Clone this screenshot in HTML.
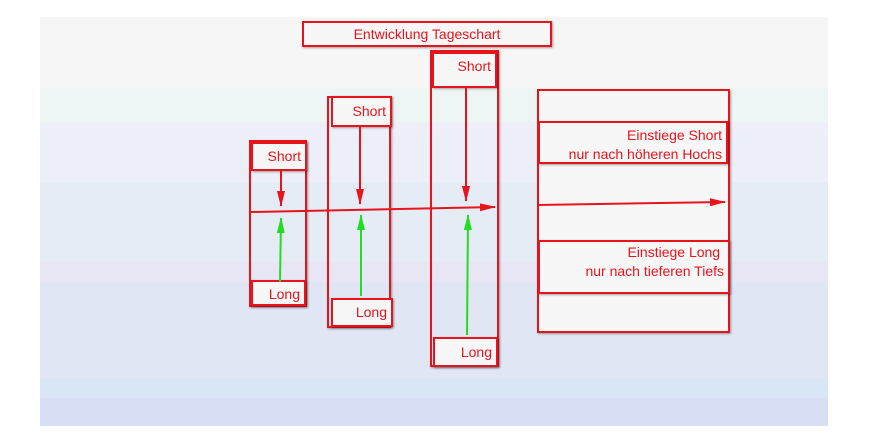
<!DOCTYPE html>
<html><head><meta charset="utf-8"><style>
body{margin:0;width:882px;height:446px;background:#fff;position:relative;overflow:hidden;font-family:"Liberation Sans",sans-serif}
.bg{position:absolute;left:40px;top:17px;width:788px;height:409px;background:linear-gradient(#f6f6f6 0,#f6f6f6 71px,#eef6f5 71px,#eef5f5 105px,#eeeff8 105px,#eceff8 165px,#e6ecf6 165px,#e6ecf6 245px,#e8e6f4 245px,#e8e6f4 265px,#e0e6f4 265px,#e0e6f4 361px,#d9e6f5 361px,#d9e6f5 381px,#d8dff5 381px)}
.b{position:absolute;box-sizing:border-box;border:2px solid #e8141c;box-shadow:1px 1px 2px rgba(0,0,0,.35)}
.t{background:#f7f7f7;color:#e8141c;font-size:14px;text-align:right;padding-right:4px;line-height:16px}
</style></head><body>
<div class="bg"></div>
<div class="b t" style="left:302px;top:21px;width:250px;height:26px;text-align:center;padding:3px 0 0">Entwicklung Tageschart</div>
<div class="b" style="left:249px;top:140px;width:58px;height:167px"></div>
<div class="b t" style="left:251px;top:142px;width:56px;height:29px;padding-top:4px">Short</div>
<div class="b t" style="left:251px;top:280px;width:55px;height:26px;padding-top:4px">Long</div>
<div class="b" style="left:327px;top:96px;width:64px;height:232px"></div>
<div class="b t" style="left:331px;top:96px;width:61px;height:31px;padding-top:5px">Short</div>
<div class="b t" style="left:331px;top:298px;width:62px;height:29px;padding-top:4px">Long</div>
<div class="b" style="left:430px;top:50px;width:69px;height:317px"></div>
<div class="b t" style="left:432px;top:52px;width:65px;height:36px;padding-top:4px">Short</div>
<div class="b t" style="left:433px;top:337px;width:65px;height:30px;padding-top:5px">Long</div>
<div class="b" style="left:537px;top:89px;width:193px;height:244px;background:#f7f7f7"></div>
<div class="b t" style="left:538px;top:121px;width:190px;height:43px;padding-top:3px;line-height:19px">Einstiege Short<br>nur nach höheren Hochs</div>
<div class="b t" style="left:538px;top:240px;width:192px;height:54px;padding-top:1px;line-height:19px">Einstiege Long&nbsp;<br>nur nach tieferen Tiefs</div>
<svg width="882" height="446" style="position:absolute;left:0;top:0">
<defs>
<marker id="r2" markerWidth="16" markerHeight="8" refX="15" refY="4" orient="auto" markerUnits="userSpaceOnUse"><path d="M0,0L16,4L0,8z" fill="#e8141c"/></marker>
<marker id="g" markerWidth="16" markerHeight="8" refX="15" refY="4" orient="auto" markerUnits="userSpaceOnUse"><path d="M0,0L16,4L0,8z" fill="#22dd22"/></marker>
</defs>
<g stroke="#e8141c" stroke-width="2" fill="none">
<line x1="251" y1="212" x2="495" y2="207" marker-end="url(#r2)"/>
<line x1="537" y1="205" x2="725" y2="202" marker-end="url(#r2)"/>
<line x1="281" y1="171" x2="281" y2="206" marker-end="url(#r2)"/>
<line x1="360" y1="126" x2="360" y2="204" marker-end="url(#r2)"/>
<line x1="466" y1="88" x2="466" y2="201" marker-end="url(#r2)"/>
</g>
<g stroke="#22dd22" stroke-width="2" fill="none">
<line x1="280" y1="282" x2="281" y2="218" marker-end="url(#g)"/>
<line x1="361" y1="296" x2="361" y2="215" marker-end="url(#g)"/>
<line x1="467" y1="335" x2="468" y2="215" marker-end="url(#g)"/>
</g>
</svg>
</body></html>
